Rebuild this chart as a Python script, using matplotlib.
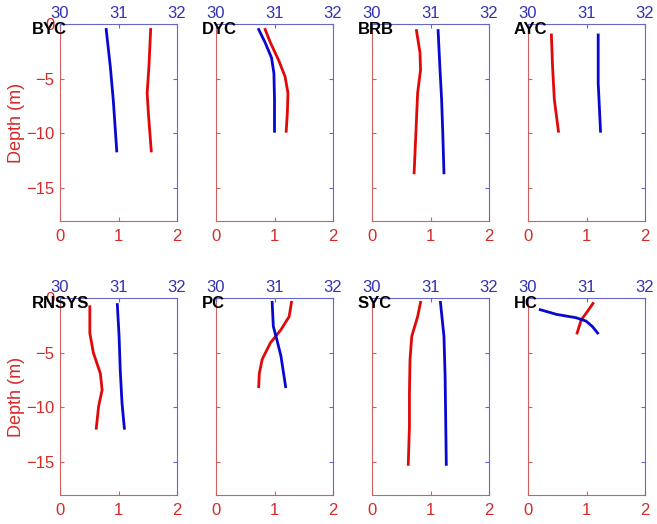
import matplotlib
matplotlib.use("Agg")
import matplotlib.pyplot as plt

plt.rcParams['font.family'] = ['Liberation Sans', 'DejaVu Sans']

# station names, one panel each
stations = ['BYC', 'DYC', 'BRB', 'AYC', 'RNSYS', 'PC', 'SYC', 'HC']

# red profiles (bottom axis, 0-2): values and depths
red_x = {
    'BYC':   [1.55, 1.52, 1.49, 1.51, 1.56],
    'DYC':   [0.84, 0.93, 1.07, 1.18, 1.23, 1.22, 1.20],
    'BRB':   [0.76, 0.82, 0.83, 0.78, 0.75, 0.72],
    'AYC':   [0.40, 0.42, 0.45, 0.52],
    'RNSYS': [0.51, 0.51, 0.57, 0.69, 0.72, 0.66, 0.62],
    'PC':    [1.29, 1.25, 1.11, 0.93, 0.79, 0.74, 0.73],
    'SYC':   [0.83, 0.78, 0.68, 0.65, 0.64, 0.64, 0.62],
    'HC':    [1.11, 1.02, 0.91, 0.84],
}
red_d = {
    'BYC':   [-0.5, -3.9, -6.3, -8.1, -11.6],
    'DYC':   [-0.5, -1.7, -3.3, -4.8, -6.3, -8.1, -9.8],
    'BRB':   [-0.6, -2.6, -4.2, -6.3, -10.0, -13.6],
    'AYC':   [-1.0, -3.9, -6.9, -9.8],
    'RNSYS': [-0.8, -3.2, -5.0, -6.9, -8.4, -9.9, -11.9],
    'PC':    [-0.4, -1.7, -2.9, -4.1, -5.6, -6.9, -8.1],
    'SYC':   [-0.4, -1.7, -3.5, -5.6, -8.7, -11.7, -15.2],
    'HC':    [-0.5, -1.2, -2.0, -3.2],
}

# blue profiles (top axis, 30-32): values and depths
blue_x = {
    'BYC':   [30.79, 30.86, 30.91, 30.97],
    'DYC':   [30.73, 30.84, 30.95, 30.99, 31.00, 31.00],
    'BRB':   [31.13, 31.16, 31.19, 31.21, 31.23],
    'AYC':   [31.20, 31.20, 31.24],
    'RNSYS': [30.98, 31.01, 31.03, 31.06, 31.10],
    'PC':    [30.96, 30.98, 31.04, 31.11, 31.19],
    'SYC':   [31.17, 31.23, 31.25, 31.26, 31.27],
    'HC':    [30.21, 30.49, 30.82, 30.99, 31.10, 31.19],
}
blue_d = {
    'BYC':   [-0.5, -3.9, -6.9, -11.6],
    'DYC':   [-0.5, -1.7, -3.1, -4.5, -6.9, -9.8],
    'BRB':   [-0.6, -3.9, -6.9, -10.0, -13.6],
    'AYC':   [-1.0, -5.4, -9.8],
    'RNSYS': [-0.6, -3.5, -6.6, -9.6, -11.9],
    'PC':    [-0.4, -2.6, -3.8, -5.3, -8.1],
    'SYC':   [-0.4, -3.5, -7.2, -11.2, -15.2],
    'HC':    [-1.07, -1.5, -1.8, -2.1, -2.6, -3.2],
}

depth_ticks = [0, -5, -10, -15]
bottom_ticks = [0, 1, 2]
top_ticks = [30, 31, 32]

RED = '#e00808'
BLUE = '#0808d0'
RED_LBL = '#d42a2a'
BLUE_LBL = '#3333b0'
RED_AX = '#d06060'
BLUE_AX = '#6666cc'

fig = plt.figure(figsize=(6.57, 5.24), dpi=100)

W, H = 657, 524
lefts = [60, 216, 372, 528]
pw = 117
rows = [(24, 221), (298, 495)]

for i, name in enumerate(stations):
    r, c = divmod(i, 4)
    top, bot = rows[r]
    ax = fig.add_axes([lefts[c] / W, 1 - bot / H, pw / W, (bot - top) / H])
    ax.plot(red_x[name], red_d[name], color=RED, lw=2)
    ax.set_xlim(0, 2)
    ax.set_ylim(-18, 0)
    ax.set_xticks(bottom_ticks)
    ax.set_yticks(depth_ticks)
    ax.tick_params(direction='in', length=3, colors=RED_AX, labelcolor=RED_LBL,
                   labelsize=12, pad=6)
    ax.tick_params(axis='y', labelleft=(c == 0), pad=4)
    for s in ['left', 'bottom']:
        ax.spines[s].set_color(RED_AX)
    for s in ['top', 'right']:
        ax.spines[s].set_visible(False)
    if c == 0:
        ax.set_ylabel('Depth (m)', color=RED_LBL, fontsize=13, labelpad=1)

    ax2 = ax.twiny()
    ax2.plot(blue_x[name], blue_d[name], color=BLUE, lw=2)
    ax2.set_xlim(30, 32)
    ax2.set_xticks(top_ticks)
    ax2.yaxis.set_visible(True)
    ax2.yaxis.tick_right()
    ax2.tick_params(direction='in', length=3, colors=BLUE_AX, labelcolor=BLUE_LBL,
                    labelsize=12, pad=2)
    ax2.tick_params(axis='y', labelright=False)
    for s in ['top', 'right']:
        ax2.spines[s].set_color(BLUE_AX)
    for s in ['left', 'bottom']:
        ax2.spines[s].set_visible(False)

    xoff = -0.24 if c == 0 else -0.12
    ax2.text(xoff, 0.97, name, transform=ax2.transAxes, fontsize=12,
             fontweight='bold', color='black', ha='left', va='center')

fig.savefig('out.png', dpi=100)
